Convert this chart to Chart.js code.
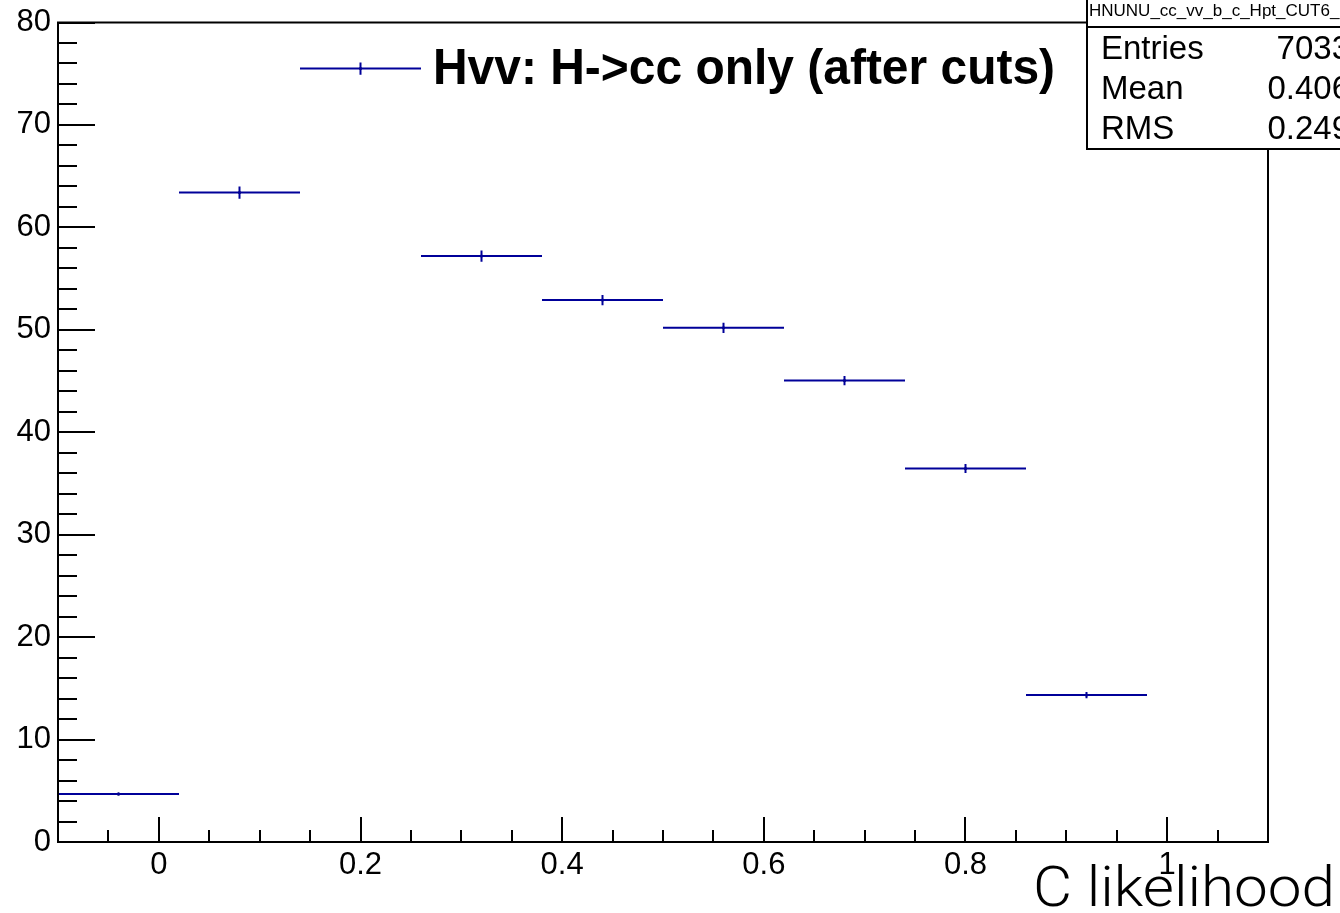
<!DOCTYPE html>
<html lang="en">
<head>
  <meta charset="UTF-8">
  <title>C likelihood</title>
  <style>
    * { margin: 0; padding: 0; box-sizing: border-box; }
    body { background: #fff; width: 1340px; height: 913px; overflow: hidden; }
    canvas { display: block; }
  </style>
</head>
<body>
  <canvas id="chart" width="1340" height="913"></canvas>

  <script src="https://cdn.jsdelivr.net/npm/chart.js"></script>
  <script>
    // histogram bins (edges), contents and errors
    const binEdges = [-0.1, 0.02, 0.14, 0.26, 0.38, 0.5, 0.62, 0.74, 0.86, 0.98, 1.1];
    const binValues = [4.68, 63.4, 75.5, 57.2, 52.9, 50.2, 45.05, 36.46, 14.34, 0];
    const binErrors = [0.15, 0.6, 0.6, 0.55, 0.5, 0.5, 0.45, 0.45, 0.3, 0];

    const xTickLabels = [0, 0.2, 0.4, 0.6, 0.8, 1];
    const yTickLabels = [0, 10, 20, 30, 40, 50, 60, 70, 80];

    const legendText = 'Hvv: H->cc only (after cuts)';
    const xTitle = 'C likelihood';
    const statsTitle = 'HNUNU_cc_vv_b_c_Hpt_CUT6_';
    const statsNames = ['Entries', 'Mean', 'RMS'];
    const statsValues = ['7033', '0.406', '0.249'];

    const LINE = '#000099';
    const FONT = "'Liberation Sans', Arial, Helvetica, sans-serif";

    // build line segments with null gaps between bins (empty bins are skipped)
    const hLines = [];
    const eLines = [];
    const centers = [];
    binValues.forEach((v, i) => {
      if (v <= 0) return;
      const lo = binEdges[i], hi = binEdges[i + 1], c = (lo + hi) / 2;
      hLines.push({ x: lo, y: v }, { x: hi, y: v }, { x: hi, y: null });
      eLines.push({ x: c, y: v - binErrors[i] }, { x: c, y: v + binErrors[i] }, { x: c, y: null });
      centers.push({ x: c, y: v });
    });

    function fitText(ctx, text, x, y, width) {
      const w = ctx.measureText(text).width;
      ctx.save();
      ctx.translate(x, y);
      ctx.scale(width / w, 1);
      ctx.fillText(text, 0, 0);
      ctx.restore();
    }

    // ROOT style frame, inner ticks, legend text, axis title and stats box
    const rootDecor = {
      id: 'rootDecor',
      afterDraw(chart) {
        const ctx = chart.ctx;
        const a = chart.chartArea;
        const xs = chart.scales.x, ys = chart.scales.y;

        ctx.save();
        ctx.strokeStyle = '#000';
        ctx.lineWidth = 2;
        ctx.strokeRect(a.left, a.top, a.right - a.left, a.bottom - a.top);

        // y ticks: major every 10, minor every 2
        ctx.beginPath();
        for (let v = 0; v <= 80; v += 2) {
          const py = Math.round(ys.getPixelForValue(v));
          const len = v % 10 === 0 ? 37 : 19;
          ctx.moveTo(a.left, py);
          ctx.lineTo(a.left + len, py);
        }
        // x ticks: major every 0.2, minor every 0.05
        for (let k = -2; k <= 22; k++) {
          const v = k * 0.05;
          const px = Math.round(xs.getPixelForValue(v));
          const len = k % 4 === 0 ? 25 : 12;
          ctx.moveTo(px, a.bottom);
          ctx.lineTo(px, a.bottom - len);
        }
        ctx.stroke();

        // legend text
        ctx.fillStyle = '#000';
        ctx.textBaseline = 'middle';
        ctx.font = 'bold 50px ' + FONT;
        fitText(ctx, legendText, 433, 70, 622);

        // x axis title
        ctx.font = '300 55px Roboto, ' + FONT;
        ctx.textBaseline = 'alphabetic';
        fitText(ctx, xTitle, 1033, 906, 302);

        // stats box
        ctx.fillStyle = '#fff';
        ctx.fillRect(1087, 0, 270, 149);
        ctx.strokeRect(1087, -2, 270, 151);
        ctx.beginPath();
        ctx.moveTo(1087, 27);
        ctx.lineTo(1357, 27);
        ctx.stroke();
        ctx.fillStyle = '#000';
        ctx.textBaseline = 'middle';
        ctx.font = '17px ' + FONT;
        ctx.fillText(statsTitle, 1089, 11);
        ctx.font = '33px ' + FONT;
        statsNames.forEach((n, i) => {
          const py = 50 + i * 40;
          ctx.textAlign = 'left';
          ctx.fillText(n, 1101, py);
          ctx.textAlign = 'right';
          ctx.fillText(statsValues[i], 1350, py);
        });
        ctx.restore();
      }
    };

    const config = {
      type: 'line',
      data: {
        datasets: [
          { data: hLines, borderColor: LINE, borderWidth: 2, pointRadius: 0, spanGaps: false, tension: 0 },
          { data: eLines, borderColor: LINE, borderWidth: 2, pointRadius: 0, spanGaps: false, tension: 0 },
          { data: centers, showLine: false, pointRadius: 1.5, pointBorderWidth: 0, pointBackgroundColor: '#000' }
        ]
      },
      options: {
        responsive: false,
        animation: false,
        events: [],
        layout: { padding: { top: 22, right: 72, left: 0, bottom: 0 } },
        plugins: { legend: { display: false }, tooltip: { enabled: false } },
        scales: {
          x: {
            type: 'linear',
            min: -0.1,
            max: 1.1,
            afterBuildTicks: s => { s.ticks = xTickLabels.map(v => ({ value: v })); },
            afterFit: s => { s.height = 71; },
            grid: { display: false, drawTicks: false },
            border: { display: false },
            ticks: {
              padding: 5,
              color: '#000',
              font: { family: FONT, size: 31 },
              maxRotation: 0,
              callback: v => String(Math.round(v * 10) / 10)
            }
          },
          y: {
            min: 0,
            max: 80,
            afterBuildTicks: s => { s.ticks = yTickLabels.map(v => ({ value: v })); },
            afterFit: s => { s.width = 58; },
            grid: { display: false, drawTicks: false },
            border: { display: false },
            ticks: {
              padding: 7,
              color: '#000',
              font: { family: FONT, size: 31, lineHeight: 1 }
            }
          }
        }
      },
      plugins: [rootDecor]
    };

    new Chart(document.getElementById('chart'), config);
  </script>
</body>
</html>
